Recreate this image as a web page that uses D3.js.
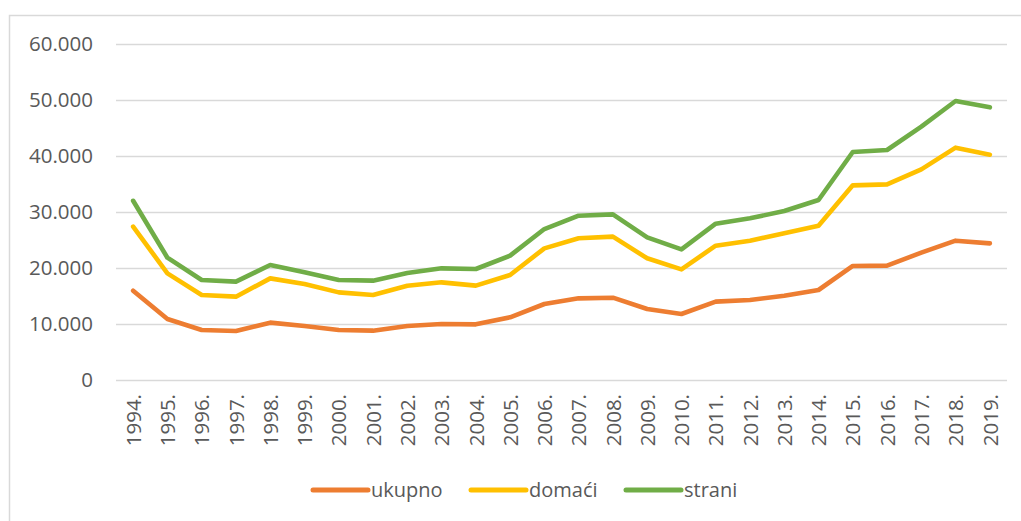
<!DOCTYPE html>
<html>
<head>
<meta charset="utf-8">
<script src="https://cdn.jsdelivr.net/npm/d3@7"></script>
<style>
  body { margin: 0; background: #fff; }
  svg { display: block; }
</style>
</head>
<body>
<div id="chart"></div>
<script>
// data
var years = ["1994.", "1995.", "1996.", "1997.", "1998.", "1999.", "2000.", "2001.", "2002.",
    "2003.", "2004.", "2005.", "2006.", "2007.", "2008.", "2009.", "2010.", "2011.", "2012.",
    "2013.", "2014.", "2015.", "2016.", "2017.", "2018.", "2019."];

var ukupno = [15950, 10890, 8930, 8750, 10240, 9640, 8930, 8810, 9640, 10000, 9940, 11190, 13570,
    14580, 14700, 12680, 11790, 13990, 14290, 15060, 16070, 20360, 20420, 22740, 24880, 24400];

var domaci = [27380, 19050, 15180, 14880, 18150, 17140, 15650, 15180, 16820, 17440, 16850, 18750, 23510,
    25300, 25600, 21730, 19760, 23990, 24880, 26190, 27560, 34760, 34940, 37620, 41490, 40240];

var strani = [32000, 21840, 17860, 17560, 20540, 19230, 17860, 17740, 19100, 19940, 19820, 22200, 26960,
    29340, 29580, 25480, 23330, 27920, 28870, 30180, 32140, 40710, 41070, 45240, 49820, 48690];

var seriesNames = ["ukupno", "domaći", "strani"];
var yTicks = [0, 10000, 20000, 30000, 40000, 50000, 60000];

var colors = ["#ED7D31", "#FFC000", "#70AD47"];

var width = 1021,
    height = 521;

var margin = {
    top: 44,
    right: 14,
    bottom: 141,
    left: 116
};

var svg = d3.select("#chart")
    .append("svg")
    .attr("width", width)
    .attr("height", height);

// chart frame (runs off the right and bottom edges)
svg.append("rect")
    .attr("x", 9.5)
    .attr("y", 15.5)
    .attr("width", width + 20)
    .attr("height", height + 20)
    .style("fill", "none")
    .style("stroke", "#d9d9d9")
    .style("stroke-width", 1.5);

var x = d3.scalePoint()
    .domain(years)
    .range([margin.left, width - margin.right])
    .padding(0.5);

var y = d3.scaleLinear()
    .domain([0, 60000])
    .range([height - margin.bottom, margin.top]);

var fmt = function (d) {
    return d === 0 ? "0" : d3.format(",")(d).replace(/,/g, ".");
};

// gridlines
var grid = svg.append("g")
    .attr("class", "grid")
    .attr("transform", "translate(" + margin.left + ",0)")
    .call(d3.axisLeft(y).tickValues(yTicks).tickSize(-(width - margin.right - margin.left)).tickFormat(""));
grid.select(".domain").remove();
grid.selectAll("line")
    .style("stroke", "#d9d9d9")
    .style("stroke-width", 1.5);

// y labels
var yAxis = svg.append("g")
    .attr("transform", "translate(" + margin.left + ",0)")
    .call(d3.axisLeft(y).tickValues(yTicks).tickSize(0).tickPadding(23).tickFormat(fmt));
yAxis.select(".domain").remove();
yAxis.selectAll("text")
    .style("font-family", "'Open Sans', sans-serif")
    .style("font-size", "20.5px")
    .style("fill", "#595959");

// x labels
var xAxis = svg.append("g")
    .attr("transform", "translate(0," + (height - margin.bottom) + ")")
    .call(d3.axisBottom(x).tickSize(0));
xAxis.select(".domain").remove();
xAxis.selectAll("text")
    .attr("transform", "rotate(-90)")
    .attr("x", -14)
    .attr("y", 0)
    .attr("dy", "0.35em")
    .style("text-anchor", "end")
    .style("font-family", "'Open Sans', sans-serif")
    .style("font-size", "20.5px")
    .style("fill", "#595959");

var line = d3.line()
    .x(function (d, i) {
        return x(years[i]);
    })
    .y(function (d) {
        return y(d);
    });

var allSeries = [ukupno, domaci, strani];

svg.append("g")
    .selectAll("path")
    .data(allSeries)
    .enter().append("path")
    .attr("d", line)
    .style("fill", "none")
    .style("stroke", function (d, i) {
        return colors[i];
    })
    .style("stroke-width", 4.6)
    .style("stroke-linejoin", "round")
    .style("stroke-linecap", "round");

// legend
var legendX = [313, 471, 626];
var legend = svg.append("g")
    .attr("transform", "translate(0,490)");

var items = legend.selectAll("g")
    .data(seriesNames)
    .enter().append("g")
    .attr("transform", function (d, i) {
        return "translate(" + legendX[i] + ",0)";
    });

items.append("line")
    .attr("x1", 0)
    .attr("x2", 55)
    .style("stroke", function (d, i) {
        return colors[i];
    })
    .style("stroke-width", 5)
    .style("stroke-linecap", "round");

items.append("text")
    .attr("x", 58)
    .attr("dy", "0.33em")
    .text(function (d) {
        return d;
    })
    .style("font-family", "'Open Sans', sans-serif")
    .style("font-size", "20px")
    .style("fill", "#595959");
</script>
</body>
</html>
